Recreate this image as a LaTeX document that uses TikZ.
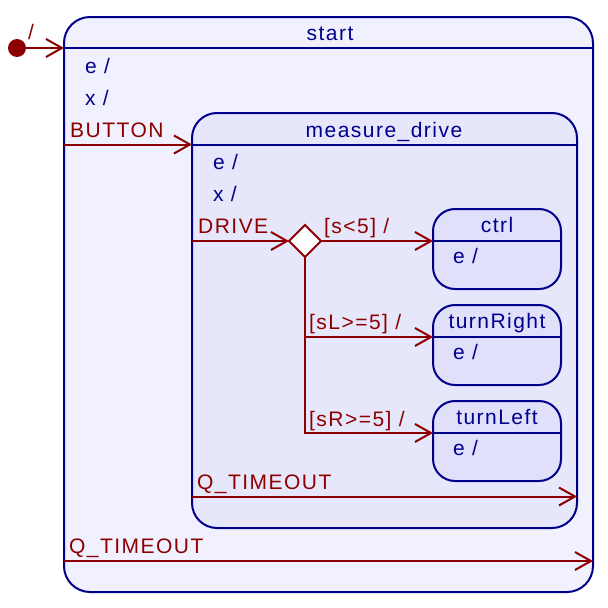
\documentclass[tikz,border=0pt]{standalone}
\usepackage{fontspec}
\setmainfont{Liberation Sans}[LetterSpace=7]
\usetikzlibrary{arrows.meta,shapes.geometric}
\definecolor{sblue}{RGB}{0,0,140}
\definecolor{tred}{RGB}{140,0,0}
\definecolor{fillA}{RGB}{240,240,255}
\definecolor{fillB}{RGB}{231,231,251}
\definecolor{fillC}{RGB}{224,224,250}
\begin{document}
\begin{tikzpicture}[x=1pt,y=-1pt,
  font=\fontsize{21}{25}\selectfont,
  state/.style={draw=sblue, line width=2pt, rounded corners=#1, inner sep=0pt, outer sep=0pt, anchor=north west},
  sline/.style={draw=sblue, line width=2pt},
  stxt/.style={text=sblue, inner sep=0pt, anchor=base west},
  stitle/.style={text=sblue, inner sep=0pt, anchor=base},
  ttxt/.style={text=tred, inner sep=0pt, anchor=base west},
  trans/.style={draw=tred, line width=2pt, -{Straight Barb[length=16pt,width=18pt,line width=2pt]}},
  ]
\useasboundingbox (0,0) rectangle (608,608);
% outer state
\node[state=26pt, fill=fillA, minimum width=529pt, minimum height=575pt] (start) at (64,17) {};
\node[stitle] (startT) at (330,40) {start};
\draw[sline] (start.west |- 0,48) -- (start.east |- 0,48);
\node[stxt] (startE) at (85,73) {e /};
\node[stxt] (startX) at (85,105) {x /};
% initial
\node[circle, fill=tred, minimum size=18pt, inner sep=0pt, outer sep=0pt] (init) at (17,48) {};
\node[ttxt] (initL) at (28,39) {/};
\draw[trans] (init) -- (init -| start.west);
% measure_drive
\node[state=25pt, fill=fillB, minimum width=385pt, minimum height=415pt] (md) at (192,113) {};
\node[stitle] (mdT) at (384,137) {measure\_drive};
\draw[sline] (md.west |- 0,144.5) -- (md.east |- 0,144.5);
\node[stxt] (mdE) at (213,169) {e /};
\node[stxt] (mdX) at (213,201) {x /};
\node[ttxt] (lbB) at (70,137) {BUTTON};
\draw[trans] (start.west |- 0,144.5) -- (md.west |- 0,144.5);
% decision
\node[diamond, draw=tred, fill=white, line width=2pt, minimum size=32pt, inner sep=0pt, outer sep=0pt] (dec) at (305,241) {};
\node[ttxt] (lbD) at (198,233) {DRIVE};
\draw[trans] (md.west |- dec) -- (dec.west);
% substates
\node[state=22pt, fill=fillC, minimum width=128pt, minimum height=80pt] (ctrl) at (433,209) {};
\node[stitle] (ctrlT) at (497,232) {ctrl};
\draw[sline] (ctrl.west |- 0,241) -- (ctrl.east |- 0,241);
\node[stxt] (ctrlE) at (453,263) {e /};
\node[state=22pt, fill=fillC, minimum width=128pt, minimum height=80pt] (tR) at (433,305) {};
\node[stitle] (tRT) at (497,328) {turnRight};
\draw[sline] (tR.west |- 0,337) -- (tR.east |- 0,337);
\node[stxt] (tRE) at (453,359) {e /};
\node[state=22pt, fill=fillC, minimum width=128pt, minimum height=80pt] (tL) at (433,401) {};
\node[stitle] (tLT) at (497,424) {turnLeft};
\draw[sline] (tL.west |- 0,433) -- (tL.east |- 0,433);
\node[stxt] (tLE) at (453,455) {e /};
% branches
\node[ttxt] (lbC) at (324,233) {[s<5] /};
\draw[trans] (dec.east) -- (ctrl.west |- dec);
\node[ttxt] (lbR) at (309,329) {[sL>=5] /};
\draw[trans] (dec.south) |- (tR.west |- 0,337);
\node[ttxt] (lbL) at (309,426) {[sR>=5] /};
\draw[trans] (dec.south) |- (tL.west |- 0,433);
% timeouts
\node[ttxt] (lbQ1) at (197,489) {Q\_TIMEOUT};
\draw[trans] (md.west |- 0,496.5) -- (md.east |- 0,496.5);
\node[ttxt] (lbQ2) at (69,553) {Q\_TIMEOUT};
\draw[trans] (start.west |- 0,561) -- (start.east |- 0,561);
\end{tikzpicture}
\end{document}
